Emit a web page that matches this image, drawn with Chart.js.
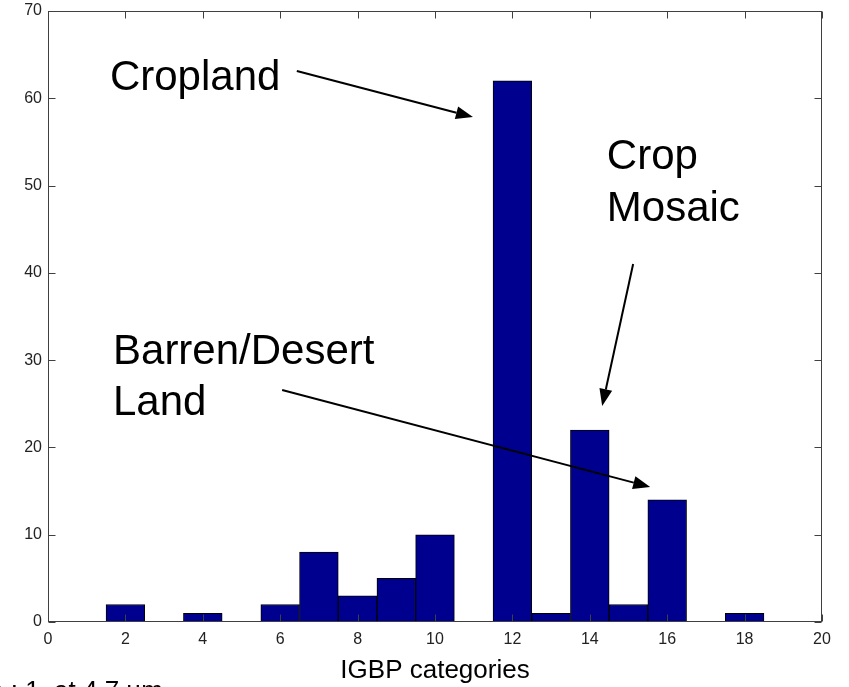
<!DOCTYPE html>
<html><head><meta charset="utf-8">
<script src="https://cdn.jsdelivr.net/npm/chart.js@4/dist/chart.umd.min.js"></script>
<style>html,body{margin:0;padding:0;background:#fff;overflow:hidden}canvas{display:block}</style>
</head><body>
<canvas id="c" width="849" height="687"></canvas>
<script>
// ---- data ----
const categories = [1,2,3,4,5,6,7,8,9,10,11,12,13,14,15,16,17,18];
const counts     = [0,2,0,1,0,2,8,3,5,10,0,62,1,22,2,14,0,1];
const xTicks = [0,2,4,6,8,10,12,14,16,18,20];
const yTicks = [0,10,20,30,40,50,60,70];
const xLabel = 'IGBP categories';
const noteCropland = ['Cropland'];
const noteMosaic = ['Crop','Mosaic'];
const noteBarren = ['Barren/Desert','Land'];
const cutCaption = 'e : 1  at 4.7 µm';

// annotation placement (in data coordinates)
const notes = [
  {lines: noteCropland, x:1.60, y:[60.95], from:[6.43,63.12], to:[10.98,57.85]},
  {lines: noteMosaic, x:14.44, y:[51.9,45.94], from:[15.12,41.01], to:[14.32,24.74]},
  {lines: noteBarren, x:1.68, y:[29.56,23.71], from:[6.05,26.58], to:[15.56,15.47]}
];

const boxPlugin = {
  id:'matlabBox',
  afterDatasetsDraw(chart){
    const {ctx, chartArea:{left,right,top,bottom}, scales:{x,y}} = chart;
    ctx.save();
    ctx.strokeStyle = '#404040';
    ctx.lineWidth = 1;
    const L = Math.round(left)+0.5, R = Math.round(right)-0.5, T = Math.round(top)+0.5, B = Math.round(bottom)-0.5;
    ctx.strokeRect(L, T, R-L, B-T);
    const tl = 7;
    ctx.beginPath();
    x.ticks.forEach(t=>{
      const px = Math.round(x.getPixelForValue(t.value))+0.5;
      ctx.moveTo(px,B); ctx.lineTo(px,B-tl);
      ctx.moveTo(px,T); ctx.lineTo(px,T+tl);
    });
    y.ticks.forEach(t=>{
      const py = Math.round(y.getPixelForValue(t.value))+0.5;
      ctx.moveTo(L,py); ctx.lineTo(L+tl,py);
      ctx.moveTo(R,py); ctx.lineTo(R-tl,py);
    });
    ctx.stroke();
    ctx.restore();
  },
  afterDraw(chart){
    const {ctx, scales:{x,y}} = chart;
    ctx.save();
    ctx.fillStyle = '#000';
    ctx.strokeStyle = '#000';
    ctx.font = '42px "Liberation Sans", Arial, sans-serif';
    ctx.textBaseline = 'alphabetic';
    ctx.textAlign = 'left';
    notes.forEach(n=>{
      n.lines.forEach((s,i)=>ctx.fillText(s, x.getPixelForValue(n.x), y.getPixelForValue(n.y[i])));
      const x0 = x.getPixelForValue(n.from[0]), y0 = y.getPixelForValue(n.from[1]);
      const x1 = x.getPixelForValue(n.to[0]), y1 = y.getPixelForValue(n.to[1]);
      const ang = Math.atan2(y1-y0, x1-x0);
      const hl = 17, hw = 6.5;
      const bx = x1 - hl*Math.cos(ang), by = y1 - hl*Math.sin(ang);
      ctx.lineWidth = 2;
      ctx.beginPath(); ctx.moveTo(x0,y0); ctx.lineTo(bx,by); ctx.stroke();
      ctx.beginPath();
      ctx.moveTo(x1,y1);
      ctx.lineTo(bx + hw*Math.sin(ang), by - hw*Math.cos(ang));
      ctx.lineTo(bx - hw*Math.sin(ang), by + hw*Math.cos(ang));
      ctx.closePath(); ctx.fill();
    });
    ctx.font = '26px "Liberation Sans", Arial, sans-serif';
    ctx.fillText(cutCaption, -11, 699);
    ctx.restore();
  }
};

new Chart(document.getElementById('c'), {
  type:'bar',
  data:{datasets:[{
    data: categories.map((c,i)=>({x:c, y:counts[i]})),
    backgroundColor:'#00008f', borderColor:'#000', borderWidth:1, borderSkipped:false,
    barPercentage:1, categoryPercentage:1
  }]},
  options:{
    responsive:false, animation:false, devicePixelRatio:1,
    layout:{padding:{left:0,right:27,top:11,bottom:0}},
    plugins:{legend:{display:false}, tooltip:{enabled:false}},
    scales:{
      x:{type:'linear', min:0, max:20, offset:false,
        grid:{display:false, drawTicks:false, offset:false}, border:{display:false},
        afterBuildTicks(s){ s.ticks = xTicks.map(v=>({value:v})); },
        ticks:{padding:8, color:'#222', font:{family:'Liberation Sans', size:16}, maxRotation:0, autoSkip:false},
        title:{display:true, text:xLabel, color:'#000', font:{family:'Liberation Sans', size:26}, padding:{top:0,bottom:1}},
        afterFit(s){ s.height = 65; s.paddingLeft = 0; s.paddingRight = 0; }
      },
      y:{type:'linear', min:0, max:70,
        grid:{display:false, drawTicks:false}, border:{display:false},
        afterBuildTicks(s){ s.ticks = yTicks.map(v=>({value:v})); },
        ticks:{padding:6, color:'#222', font:{family:'Liberation Sans', size:16}, autoSkip:false},
        afterFit(s){ s.width = 48; s.paddingTop = 0; s.paddingBottom = 0; }
      }
    }
  },
  plugins:[boxPlugin]
});
</script>
</body></html>
